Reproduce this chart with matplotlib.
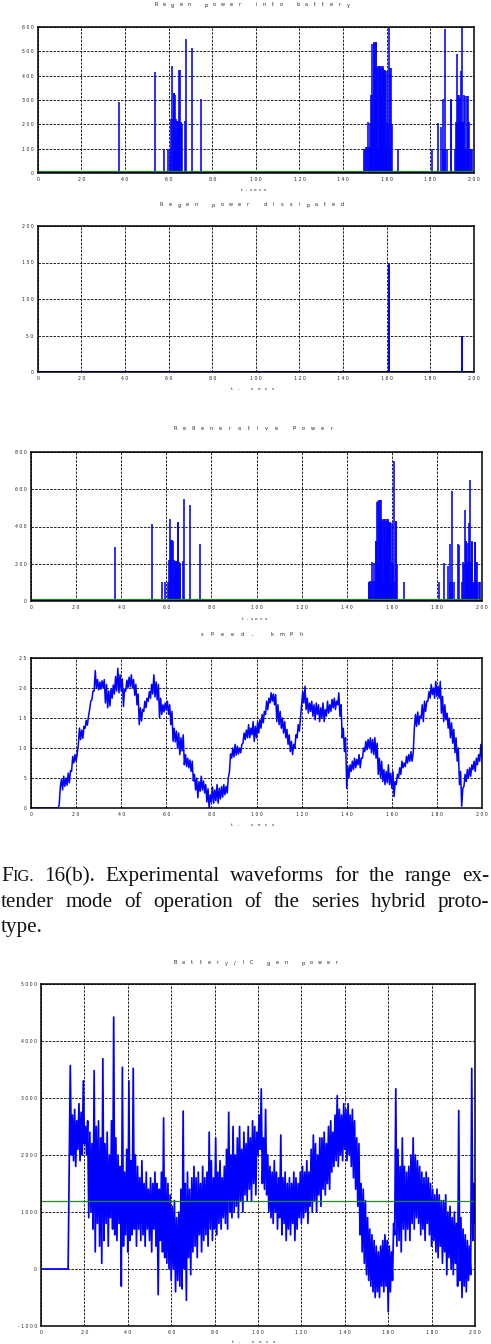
import numpy as np
import matplotlib
matplotlib.use("Agg")
import matplotlib.pyplot as plt
from matplotlib.ticker import FuncFormatter

W, H = 491, 1344

# ── Regenerative power events (t in s, power in W) ────────────────────────────
regen_t = [37.4, 53.8, 58.1, 59.6, 60.6,
           61.3, 61.7, 62.0, 62.3, 62.6, 62.9, 63.2, 63.5, 63.8, 64.1, 64.4,
           64.7, 65.0, 65.3, 65.6, 65.9, 66.2, 67.5, 67.8, 70.7, 75.0,
           149.7, 150.1, 150.5, 150.9, 151.3, 151.7, 152.1, 152.5, 152.8, 153.1,
           153.4, 153.7, 154.0, 154.3, 154.6, 154.9, 155.2, 155.5, 155.8, 156.1,
           156.4, 156.7, 157.0, 157.3, 157.6, 157.9, 158.2, 158.5, 158.8, 159.1,
           159.4, 159.7, 160.0, 160.3, 160.6, 161.0, 161.3, 161.7, 162.0, 162.4,
           165.3,
           180.8, 183.3, 184.9, 185.6, 186.0, 186.5, 186.9, 187.5, 189.4, 189.6,
           191.2, 191.6, 192.0, 192.4, 192.7, 193.0, 193.3, 193.6, 193.9, 194.2,
           194.5, 194.8, 195.1, 195.4, 195.7, 196.0, 196.4, 196.8, 197.1, 197.4,
           197.7, 198.0, 198.6, 198.9]
regen_p = [290, 415, 100, 100, 100,
           220, 440, 220, 330, 330, 320, 220, 150, 215, 215, 215,
           215, 425, 425, 210, 205, 200, 215, 550, 515, 305,
           100, 100, 105, 105, 210, 105, 205, 105, 320, 320,
           530, 200, 535, 540, 430, 540, 540, 430, 440, 100,
           440, 435, 440, 430, 320, 440, 430, 440, 425, 420,
           425, 100, 420, 210, 200, 750, 100, 430, 430, 200,
           100,
           100, 205, 190, 305, 100, 590, 100, 100, 305, 300,
           100, 210, 200, 490, 320, 320, 210, 310, 210, 420,
           650, 210, 210, 320, 315, 100, 100, 315, 315, 210,
           210, 100, 100, 100]
BATT_LIMIT = 600        # regen above this goes to the dump resistor
REGEN_THRESHOLD = 10
GEN_AVG = 1200

# ── Per-second envelopes, t = 0..200 s ────────────────────────────────────────
sec = np.arange(0, 201)
speed_lo = [0, 0, 0, 0, 0, 0, 0, 0, 0, 0,
            0, 0, 0, 3.5, 3.0, 3.6, 3.8, 4.2, 6.1, 7.5,
            7.8, 10.6, 11.4, 11.6, 13.3, 13.8, 16.4, 18.0, 19.5, 20.0,
            19.7, 19.8, 20.0, 17.5, 16.7, 17.0, 18.3, 19.0, 19.5, 19.2,
            19.5, 16.9, 19.5, 20.0, 20.2, 20.0, 18.8, 17.2, 13.9, 14.5,
            16.1, 16.7, 17.8, 18.3, 19.0, 18.5, 18.0, 15.0, 15.6, 16.0,
            16.3, 15.6, 13.9, 11.1, 11.0, 10.0, 8.9, 9.5, 7.2, 6.9,
            6.7, 6.1, 4.5, 3.0, 1.7, 2.8, 3.0, 2.5, 1.0, 0.0,
            1.0, 0.8, 1.2, 0.8, 1.5, 1.8, 2.2, 2.5, 6.0, 8.3,
            8.5, 8.8, 9.0, 9.2, 10.8, 11.4, 11.7, 11.7, 12.2, 11.1,
            11.7, 12.5, 13.3, 14.2, 15.6, 16.4, 17.5, 17.8, 17.2, 14.4,
            13.9, 13.3, 12.5, 11.7, 10.6, 9.4, 8.9, 10.0, 11.7, 12.8,
            17.2, 17.5, 16.4, 15.8, 16.1, 15.3, 14.7, 15.6, 14.4, 15.0,
            14.4, 15.3, 15.8, 16.1, 16.7, 16.4, 17.2, 15.3, 11.7, 9.4,
            3.3, 5.0, 6.1, 6.4, 6.7, 7.2, 6.7, 8.3, 9.4, 9.7,
            10.0, 9.2, 8.9, 8.3, 5.6, 5.0, 4.4, 3.9, 4.2, 3.9,
            3.3, 1.9, 3.9, 5.0, 5.6, 6.7, 6.9, 7.5, 7.8, 7.8,
            13.3, 13.6, 13.9, 15.0, 14.4, 16.1, 17.8, 18.3, 18.9, 18.3,
            18.6, 18.3, 15.8, 14.4, 14.7, 13.3, 11.7, 10.8, 9.2, 7.8,
            3.9, 0.3, 3.6, 4.4, 5.0, 5.3, 6.4, 6.1, 7.2, 7.8,
            8.3]
speed_hi = [0, 0, 0, 0, 0, 0, 0, 0, 0, 0,
            0, 0, 0.5, 4.8, 5.3, 5.0, 5.8, 6.2, 8.6, 8.9,
            9.0, 13.3, 13.0, 13.6, 14.6, 15.3, 17.8, 19.5, 22.9, 21.4,
            21.0, 21.2, 21.4, 20.6, 19.5, 19.8, 20.5, 21.9, 23.3, 22.2,
            21.5, 19.8, 21.3, 21.8, 22.2, 21.4, 20.6, 19.0, 16.7, 16.4,
            17.8, 18.3, 19.4, 20.6, 22.2, 21.0, 20.6, 18.3, 17.2, 17.5,
            17.8, 17.2, 16.1, 13.3, 12.8, 12.5, 11.7, 12.2, 8.9, 8.3,
            8.0, 7.8, 5.6, 5.0, 4.4, 5.3, 4.5, 3.9, 3.2, 2.2,
            3.5, 3.0, 3.9, 3.3, 3.6, 3.9, 3.6, 5.0, 9.0, 10.0,
            10.6, 10.3, 10.0, 10.6, 12.5, 13.0, 13.9, 13.3, 14.4, 13.6,
            14.4, 14.7, 15.6, 16.1, 17.8, 18.3, 19.2, 19.0, 18.9, 17.2,
            16.1, 15.0, 14.4, 13.1, 12.2, 11.1, 10.6, 12.2, 13.9, 15.0,
            19.4, 20.3, 18.3, 17.5, 17.8, 17.2, 17.5, 17.2, 16.7, 17.5,
            16.4, 17.8, 17.2, 18.1, 18.3, 17.8, 19.2, 17.2, 13.3, 11.7,
            7.0, 7.2, 7.8, 8.3, 8.1, 8.9, 8.3, 10.0, 11.1, 11.4,
            11.7, 11.4, 11.7, 10.8, 8.3, 7.8, 6.4, 6.1, 7.2, 5.8,
            6.1, 4.4, 5.6, 6.7, 7.8, 7.5, 8.6, 8.9, 9.4, 9.2,
            15.6, 16.0, 15.3, 17.2, 17.8, 17.8, 19.4, 20.6, 20.0, 21.1,
            20.3, 21.1, 18.6, 17.2, 15.8, 15.0, 14.2, 13.1, 11.7, 10.0,
            6.1, 3.3, 5.6, 6.4, 6.7, 7.2, 7.8, 8.3, 8.9, 10.6,
            10.3]
batt_lo = [0, 0, 0, 0, 0, 0, 0, 0, 0, 0,
           0, 0, 0, 1700, 2000, 1900, 1800, 2100, 1900, 2000,
           2200, 2000, 900, 1000, 700, 300, 800, 400, 100, 500,
           800, 400, 900, 700, 600, 500, 800, -300, 400, 600,
           300, 500, 600, 700, 400, 700, 500, 600, 400, 700,
           500, 300, 700, 400, -450, 500, 300, 200, 100, 0,
           -200, 0, -400, -200, -300, -350, 0, -550, 200, -100,
           300, 400, 200, 600, 300, 500, 600, 400, 700, 500,
           700, 600, 800, 700, 900, 800, 700, 1000, 900, 1000,
           1100, 900, 1200, 1000, 1300, 1200, 1400, 1200, 1500, 1300,
           2000, 2100, 1500, 1400, 1300, 1000, 900, 800, 1000, 700,
           900, 600, 800, 500, 700, 600, 800, 500, 700, 900,
           800, 900, 1000, 800, 1100, 1000, 1200, 1000, 1300, 1100,
           1400, 1300, 1500, 1400, 1700, 1800, 1900, 1800, 2000, 1900,
           2100, 1900, 2000, 1800, 1600, 1400, 1100, 600, 300, 100,
           -100, -200, -300, -400, -500, -400, -500, -300, -400, -300,
           -750, -400, -200, 600, 400, 500, 300, 700, 500, 700,
           500, 800, 700, 900, 800, 600, 700, 500, 800, 600,
           400, 500, 300, 200, 400, 100, 300, -100, 200, 0,
           -100, 100, -300, -200, -500, -300, -400, -200, -100, 500,
           800]
batt_hi = [0, 0, 0, 0, 0, 0, 0, 0, 0, 0,
           0, 0, 0, 3570, 2700, 2800, 2600, 2900, 2750, 3300,
           2500, 2600, 2400, 2200, 3480, 2500, 2600, 2300, 3690, 2200,
           2400, 2000, 2600, 4420, 2300, 2000, 1800, 3540, 1700, 2100,
           3300, 1900, 3520, 2000, 1800, 1600, 1900, 1500, 1700, 1400,
           1600, 1500, 1700, 1500, 1400, 1700, 2650, 1600, 1500, 1300,
           1100, 1200, 900, 1000, 1400, 2770, 1500, 1700, 1400, 1600,
           1800, 1600, 1700, 1500, 1800, 1600, 1700, 2400, 1900, 1600,
           2300, 1700, 1900, 1600, 1800, 2100, 2750, 2000, 2500, 2000,
           2300, 2500, 2100, 2400, 2200, 2500, 2300, 2600, 2500, 2400,
           2700, 3160, 2300, 2800, 2000, 1800, 1700, 1900, 1700, 1600,
           2350, 1600, 1700, 1500, 1600, 1500, 1700, 1600, 1500, 1700,
           1800, 1700, 1900, 1700, 2100, 2350, 2200, 2000, 2300, 2300,
           2400, 2200, 2500, 2600, 2400, 2700, 3040, 2800, 2700, 2900,
           2800, 2900, 2700, 2800, 2600, 2300, 2200, 1500, 1400, 1200,
           900, 700, 600, 500, 400, 300, 400, 500, 600, 500,
           400, 300, 800, 3160, 2100, 1800, 2300, 1800, 1700, 1800,
           2000, 2300, 2000, 1900, 1800, 1700, 1600, 1700, 1600, 1500,
           1400, 1300, 1400, 1300, 1200, 1200, 1300, 1000, 1100, 900,
           1000, 800, 2780, 900, 700, 600, 500, 400, 3520, 1500,
           1800]

# derived signals
regen_p = np.array(regen_p, dtype=float)
batt_in = np.minimum(regen_p, BATT_LIMIT)
dissipated = np.maximum(regen_p - BATT_LIMIT, 0)
dis_mask = dissipated > 0

BLUE = "#0000ff"
GREEN = "#1f8a1f"

fig = plt.figure(figsize=(W / 100, H / 100), dpi=100)
fig.patch.set_facecolor("white")


def make_axes(left, top, right, bottom):
    return fig.add_axes([left / W, 1 - bottom / H, (right - left) / W, (bottom - top) / H])


def spaced_fmt(v, pos):
    return " ".join(str(int(round(v))))


def style_axes(ax, lo, hi, step):
    ax.set_xlim(0, 200)
    ax.set_ylim(lo, hi)
    ax.set_xticks(np.arange(0, 201, 20))
    ax.set_yticks(np.arange(lo, hi + 1, step))
    ax.xaxis.set_major_formatter(FuncFormatter(spaced_fmt))
    ax.yaxis.set_major_formatter(FuncFormatter(spaced_fmt))
    ax.tick_params(length=0, labelsize=3.3, pad=3, labelcolor="#222222")
    ax.grid(True, color="k", linestyle=(0, (3, 1.5)), linewidth=0.6)
    ax.set_axisbelow(True)
    for s in ax.spines.values():
        s.set_linewidth(1.1)


def spaced_text(xc, y, text, pitch, size=3.6):
    x0 = xc - pitch * (len(text) - 1) / 2
    for i, ch in enumerate(text):
        if ch != " ":
            fig.text((x0 + i * pitch) / W, 1 - y / H, ch, ha="center", va="center",
                     fontsize=size, color="#222222")


def zigzag(lo, hi):
    tt = np.ravel(np.column_stack([sec, sec + 0.5]))
    vv = np.ravel(np.column_stack([lo, hi]))
    return tt, vv


# ── Panel 1: regen power into battery ─────────────────────────────────────────
ax1 = make_axes(37.7, 27, 474, 173)
ax1.vlines(regen_t, 0, batt_in, colors=BLUE, linewidth=1.15)
ax1.axhline(0, color=BLUE, linewidth=2.2)
ax1.axhline(REGEN_THRESHOLD, color=GREEN, linewidth=0.9)
style_axes(ax1, 0, 600, 100)
spaced_text(252, 5, "Regen power into battery", 8.35)
spaced_text(253, 190, "t,secs", 4.6, 3.2)

# ── Panel 2: regen power dissipated ───────────────────────────────────────────
ax2 = make_axes(37.7, 226, 474, 372)
ax2.vlines(np.array(regen_t)[dis_mask], 0, dissipated[dis_mask], colors=BLUE, linewidth=1.4)
ax2.axhline(0, color=BLUE, linewidth=2.2)
ax2.axhline(0, color=GREEN, linewidth=0.9)
style_axes(ax2, 0, 200, 50)
spaced_text(252, 205, "Regen power dissipated", 8.6)
spaced_text(252, 389, "t, secs", 6.8, 3.2)

# ── Panel 3: regenerative power ───────────────────────────────────────────────
ax3 = make_axes(31, 452, 482, 601)
ax3.vlines(regen_t, 0, regen_p, colors=BLUE, linewidth=1.15)
ax3.axhline(0, color=BLUE, linewidth=2.2)
ax3.axhline(REGEN_THRESHOLD, color=GREEN, linewidth=0.9)
style_axes(ax3, 0, 800, 200)
spaced_text(253, 428, "Regenerative power", 9.2)
spaced_text(254, 619, "t,secs", 4.6, 3.2)

# ── Panel 4: speed ────────────────────────────────────────────────────────────
ax4 = make_axes(31, 658, 482, 808)
t4, v4 = zigzag(speed_lo, speed_hi)
ax4.plot(t4, v4, color=BLUE, linewidth=1.1)
style_axes(ax4, 0, 25, 5)
spaced_text(252, 634, "speed, kmph", 9.9)
spaced_text(252, 825, "t, secs", 6.8, 3.2)

# ── Caption (justified, Times-like) ───────────────────────────────────────────
renderer = fig.canvas.get_renderer()
CAP_SIZE = 15.2
SERIF = "Liberation Serif"


def word_width(parts):
    w = 0
    for s, sz in parts:
        t = fig.text(0, 0, s, fontsize=sz, family=SERIF)
        w += t.get_window_extent(renderer).width
        t.remove()
    return w


def caption_line(words, y, x_left, x_right, justify=True):
    widths = [word_width(p) for p in words]
    if justify and len(words) > 1:
        gap = (x_right - x_left - sum(widths)) / (len(words) - 1)
    else:
        gap = CAP_SIZE * 100 / 72 * 0.25
    x = x_left
    for parts, w in zip(words, widths):
        xp = x
        for s, sz in parts:
            fig.text(xp / W, 1 - y / H, s, fontsize=sz, family=SERIF,
                     ha="left", va="baseline", color="#111111")
            xp += word_width([(s, sz)])
        x += w + gap


def plain(text):
    return [[(w, CAP_SIZE)] for w in text.split()]


line1 = [[("F", CAP_SIZE), ("IG.", CAP_SIZE * 0.78)]] + plain(
    "16(b). Experimental waveforms for the range ex-")
caption_line(line1, 881, 1, 489)
caption_line(plain("tender mode of operation of the series hybrid proto-"), 907, 1, 489)
caption_line(plain("type."), 932, 1, 489, justify=False)

# ── Panel 5: battery / IC generator power ─────────────────────────────────────
ax5 = make_axes(41, 984, 475, 1326)
t5, v5 = zigzag(batt_lo, batt_hi)
ax5.plot(t5, v5, color=BLUE, linewidth=1.25)
ax5.axhline(GEN_AVG, color=GREEN, linewidth=0.9)
style_axes(ax5, -1000, 5000, 1000)
spaced_text(256, 963, "Battery/IC gen power", 8.5)
spaced_text(253, 1342, "t, secs", 6.8, 3.2)

fig.savefig("out.png", dpi=100, facecolor="white")
